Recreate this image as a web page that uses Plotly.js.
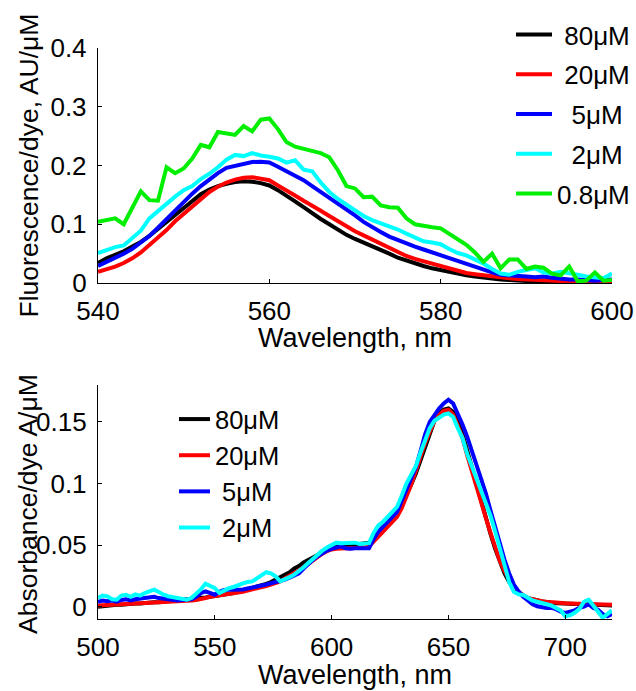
<!DOCTYPE html>
<html>
<head>
<meta charset="utf-8">
<script src="https://cdn.plot.ly/plotly-3.0.1.min.js"></script>
<style>html,body{margin:0;padding:0;background:#fff;}#chart{width:636px;height:691px;}</style>
</head>
<body>
<div id="chart"></div>
<script>
// ---------- Fluorescence (top panel) ----------
const flWavelength = [540,541,542,543,544,545,546,547,548,549,550,551,552,553,554,555,556,557,558,559,560,561,562,563,564,565,566,567,568,569,570,571,572,573,574,575,576,577,578,579,580,581,582,583,584,585,586,587,588,589,590,591,592,593,594,595,596,597,598,599,600];
const fl80uM = [0.034,0.042,0.048,0.054,0.062,0.070,0.080,0.092,0.104,0.117,0.129,0.141,0.151,0.159,0.165,0.169,0.172,0.173,0.1725,0.170,0.166,0.158,0.149,0.139,0.129,0.118,0.109,0.100,0.091,0.082,0.075,0.069,0.063,0.056,0.050,0.043,0.038,0.033,0.029,0.025,0.022,0.018,0.015,0.013,0.011,0.009,0.007,0.006,0.005,0.004,0.003,0.002,0.0015,0.001,0.001,0.0005,0,0,0,0,0];
const fl20uM = [0.019,0.023,0.028,0.034,0.042,0.052,0.064,0.076,0.090,0.105,0.118,0.131,0.143,0.155,0.164,0.171,0.176,0.179,0.180,0.178,0.175,0.166,0.158,0.149,0.140,0.132,0.123,0.114,0.105,0.096,0.088,0.081,0.074,0.067,0.060,0.052,0.046,0.041,0.037,0.032,0.028,0.024,0.020,0.017,0.015,0.013,0.011,0.009,0.008,0.007,0.006,0.005,0.0045,0.004,0.0035,0.003,0.002,0.0015,0.001,0.001,0.001];
const fl5uM = [0.029,0.036,0.042,0.050,0.058,0.068,0.080,0.094,0.109,0.124,0.138,0.152,0.165,0.177,0.187,0.196,0.199,0.203,0.206,0.2065,0.205,0.198,0.190,0.182,0.175,0.165,0.155,0.146,0.137,0.127,0.115,0.104,0.095,0.087,0.079,0.073,0.067,0.062,0.057,0.052,0.047,0.042,0.037,0.032,0.028,0.023,0.018,0.014,0.0125,0.012,0.011,0.010,0.011,0.009,0.007,0.006,0.006,0.005,0.004,0.005,0.006];
const fl2uM = [0.051,0.056,0.061,0.064,0.077,0.089,0.110,0.123,0.134,0.147,0.158,0.165,0.177,0.186,0.197,0.210,0.218,0.216,0.221,0.217,0.215,0.212,0.205,0.209,0.193,0.190,0.171,0.155,0.143,0.133,0.124,0.114,0.107,0.102,0.096,0.091,0.084,0.077,0.071,0.069,0.066,0.058,0.051,0.047,0.040,0.033,0.024,0.016,0.014,0.019,0.022,0.025,0.018,0.016,0.019,0.017,0.014,0.011,0.009,0.008,0.016];
const fl08uM = [0.104,0.107,0.110,0.100,0.128,0.156,0.141,0.140,0.197,0.187,0.195,0.212,0.235,0.231,0.257,0.254,0.252,0.267,0.258,0.278,0.280,0.262,0.240,0.232,0.228,0.225,0.221,0.214,0.192,0.165,0.161,0.146,0.147,0.132,0.129,0.128,0.110,0.100,0.097,0.095,0.093,0.083,0.074,0.065,0.052,0.036,0.050,0.025,0.040,0.040,0.024,0.028,0.026,0.016,0.013,0.028,0.003,0.004,0.018,0.004,0.005];
const flLabels = ['80\u03bcM','20\u03bcM','5\u03bcM','2\u03bcM','0.8\u03bcM'];

// ---------- Absorbance (bottom panel) ----------
const abWavelength = [500,502,504,506,508,510,512,514,516,518,520,522,524,526,528,530,532,534,536,538,540,542,544,546,548,550,552,554,556,558,560,562,564,566,568,570,572,574,576,578,580,582,584,586,588,590,592,594,596,598,600,602,604,606,608,610,612,614,616,618,620,622,624,626,628,630,632,634,636,638,640,642,644,646,648,650,652,654,656,658,660,662,664,666,668,670,672,674,676,678,680,682,684,686,688,690,692,694,696,698,700,702,704,706,708,710,712,714,716,718,720];
const ab80uM = [0.000,0.0005,0.001,0.001,0.0015,0.0015,0.002,0.002,0.0025,0.0025,0.003,0.003,0.0035,0.0035,0.004,0.004,0.0045,0.005,0.0055,0.006,0.0065,0.007,0.0072,0.0075,0.008,0.0085,0.009,0.0095,0.010,0.011,0.012,0.013,0.014,0.015,0.016,0.017,0.0185,0.020,0.022,0.024,0.026,0.028,0.031,0.033,0.036,0.038,0.040,0.042,0.045,0.047,0.048,0.049,0.0495,0.050,0.050,0.0505,0.051,0.0515,0.052,0.055,0.059,0.062,0.066,0.070,0.075,0.082,0.090,0.099,0.108,0.119,0.131,0.142,0.151,0.157,0.160,0.161,0.158,0.150,0.140,0.127,0.113,0.099,0.085,0.072,0.059,0.047,0.036,0.027,0.020,0.015,0.011,0.009,0.007,0.006,0.005,0.004,0.0035,0.003,0.0028,0.0025,0.0022,0.002,0.0018,0.0016,0.0015,0.0014,0.0013,0.0012,0.0012,0.0011,0.001];
const ab20uM = [0.001,0.0012,0.0014,0.0016,0.0018,0.002,0.0021,0.0022,0.0023,0.0024,0.0025,0.0027,0.003,0.003,0.0032,0.0035,0.0037,0.004,0.0042,0.0045,0.005,0.0055,0.006,0.007,0.008,0.0085,0.0088,0.0092,0.0098,0.0104,0.011,0.012,0.013,0.0138,0.0145,0.0155,0.0168,0.018,0.019,0.0205,0.023,0.025,0.027,0.0295,0.032,0.035,0.037,0.040,0.043,0.045,0.0465,0.047,0.0475,0.0475,0.0475,0.0475,0.048,0.048,0.049,0.053,0.058,0.062,0.065,0.069,0.073,0.080,0.089,0.099,0.110,0.122,0.133,0.142,0.151,0.156,0.159,0.160,0.156,0.147,0.137,0.123,0.110,0.096,0.083,0.072,0.060,0.048,0.037,0.029,0.022,0.016,0.012,0.009,0.007,0.006,0.005,0.0045,0.004,0.0035,0.003,0.003,0.0028,0.0026,0.0024,0.0022,0.002,0.002,0.0018,0.0016,0.0015,0.0015,0.0015];
const ab5uM = [0.004,0.005,0.0045,0.005,0.004,0.0055,0.006,0.005,0.006,0.0065,0.007,0.0075,0.008,0.007,0.0065,0.006,0.005,0.005,0.0055,0.0055,0.006,0.008,0.011,0.0124,0.011,0.0097,0.012,0.0135,0.0138,0.0138,0.0138,0.014,0.0148,0.0155,0.016,0.017,0.018,0.019,0.0198,0.0205,0.022,0.0235,0.025,0.027,0.031,0.035,0.038,0.041,0.0435,0.0455,0.047,0.048,0.049,0.0475,0.047,0.0475,0.0475,0.047,0.0475,0.055,0.061,0.065,0.069,0.072,0.077,0.086,0.095,0.104,0.113,0.126,0.140,0.150,0.156,0.161,0.165,0.168,0.165,0.157,0.148,0.138,0.127,0.116,0.104,0.092,0.078,0.064,0.050,0.038,0.027,0.018,0.0124,0.008,0.005,0.002,0.0003,-0.0005,-0.001,-0.001,-0.002,-0.004,-0.005,-0.004,-0.003,-0.001,0.0,0.002,-0.001,-0.0024,-0.006,-0.0078,-0.006];
const ab2uM = [0.007,0.009,0.0084,0.006,0.0057,0.009,0.0097,0.008,0.010,0.009,0.011,0.012,0.0138,0.012,0.0097,0.0085,0.008,0.007,0.0065,0.0057,0.007,0.010,0.014,0.0186,0.017,0.015,0.011,0.013,0.015,0.016,0.0178,0.019,0.020,0.0205,0.023,0.026,0.028,0.027,0.0246,0.0205,0.022,0.024,0.026,0.0286,0.032,0.0354,0.039,0.042,0.0455,0.048,0.050,0.052,0.0516,0.052,0.0516,0.052,0.051,0.051,0.0516,0.060,0.066,0.069,0.073,0.077,0.081,0.090,0.100,0.107,0.114,0.125,0.136,0.145,0.151,0.154,0.156,0.157,0.154,0.145,0.137,0.124,0.114,0.103,0.093,0.084,0.074,0.061,0.048,0.033,0.020,0.012,0.010,0.0095,0.007,0.005,0.004,0.003,0.002,0.001,-0.001,-0.003,-0.0078,-0.007,-0.005,-0.002,0.004,0.0057,0.001,-0.004,-0.009,-0.006,-0.003];
const abLabels = ['80\u03bcM','20\u03bcM','5\u03bcM','2\u03bcM'];

const flColors = ['#000000','#ff0000','#0000ff','#00ffff','#00ee00'];
const abColors = ['#000000','#ff0000','#0000ff','#00ffff'];

const W = 636, H = 691;
const px = v => v / W;
const py = v => 1 - v / H;
const FONT = 'Liberation Sans, Arial, sans-serif';
const NB = '\u00a0';

const flSeries = [fl80uM, fl20uM, fl5uM, fl2uM, fl08uM];
const flPad = [1,1,2,2,0];
const abSeries = [ab80uM, ab20uM, ab5uM, ab2uM];
const abPad = [0,0,1,1];

const traces = [];
flSeries.forEach((ys, i) => traces.push({
  type: 'scatter', mode: 'lines', x: flWavelength, y: ys,
  name: NB.repeat(flPad[i]) + flLabels[i], legendgroup: 'f' + i,
  line: {color: flColors[i], width: 4}, xaxis: 'x', yaxis: 'y', legend: 'legend'
}));
abSeries.forEach((ys, i) => traces.push({
  type: 'scatter', mode: 'lines', x: abWavelength, y: ys,
  name: NB.repeat(abPad[i]) + abLabels[i], legendgroup: 'a' + i,
  line: {color: abColors[i], width: 4}, xaxis: 'x2', yaxis: 'y2', legend: 'legend2'
}));

const axBase = {
  showline: true, linecolor: '#000', linewidth: 1.2, mirror: false,
  showgrid: false, zeroline: false, ticks: 'inside', ticklen: 4,
  tickcolor: '#000', tickwidth: 1, tickfont: {family: FONT, size: 26, color: '#000'},
  fixedrange: true
};

const layout = {
  width: W, height: H,
  margin: {l: 0, r: 0, t: 0, b: 0},
  paper_bgcolor: '#fff', plot_bgcolor: '#fff',
  font: {family: FONT, size: 26, color: '#000'},
  showlegend: true,
  xaxis: Object.assign({}, axBase, {
    domain: [px(98), px(612)], anchor: 'y', range: [540, 600],
    tickvals: [540, 560, 580, 600], ticktext: ['540','560','580','600'], ticklabelstandoff: 5
  }),
  yaxis: Object.assign({}, axBase, {
    domain: [py(283), py(48)], anchor: 'x', range: [0, 0.4],
    tickvals: [0, 0.1, 0.2, 0.3, 0.4], ticktext: ['0','0.1','0.2','0.3','0.4'], ticklabelstandoff: 5
  }),
  xaxis2: Object.assign({}, axBase, {
    domain: [px(98), px(612)], anchor: 'y2', range: [500, 720],
    tickvals: [500, 550, 600, 650, 700], ticktext: ['500','550','600','650','700'], ticklabelstandoff: 5
  }),
  yaxis2: Object.assign({}, axBase, {
    domain: [py(619), py(385)], anchor: 'x2', range: [-0.01, 0.18],
    tickvals: [0, 0.05, 0.1, 0.15], ticktext: ['0','0.05','0.1','0.15'], ticklabelstandoff: 5
  }),
  legend: {
    x: px(511), y: py(11), xanchor: 'left', yanchor: 'top',
    bgcolor: 'rgba(0,0,0,0)', borderwidth: 0, itemwidth: 36,
    tracegroupgap: 3, font: {family: FONT, size: 26, color: '#000'}
  },
  legend2: {
    x: px(174), y: py(396), xanchor: 'left', yanchor: 'top',
    bgcolor: 'rgba(0,0,0,0)', borderwidth: 0, itemwidth: 31,
    tracegroupgap: 0, font: {family: FONT, size: 25.5, color: '#000'}
  },
  annotations: [
    {text: 'Wavelength, nm', xref: 'paper', yref: 'paper', x: px(355), y: py(338),
     xanchor: 'center', yanchor: 'middle', showarrow: false, font: {family: FONT, size: 27}},
    {text: 'Wavelength, nm', xref: 'paper', yref: 'paper', x: px(355), y: py(675),
     xanchor: 'center', yanchor: 'middle', showarrow: false, font: {family: FONT, size: 27}},
    {text: 'Fluorescence/dye, AU/\u03bcM', xref: 'paper', yref: 'paper', x: px(28), y: py(165.5),
     xanchor: 'center', yanchor: 'middle', textangle: -90, showarrow: false, font: {family: FONT, size: 26.5}},
    {text: 'Absorbance/dye A/\u03bcM', xref: 'paper', yref: 'paper', x: px(28), y: py(504),
     xanchor: 'center', yanchor: 'middle', textangle: -90, showarrow: false, font: {family: FONT, size: 26.5}}
  ]
};

Plotly.newPlot('chart', traces, layout, {staticPlot: true, displayModeBar: false});
</script>
</body>
</html>
